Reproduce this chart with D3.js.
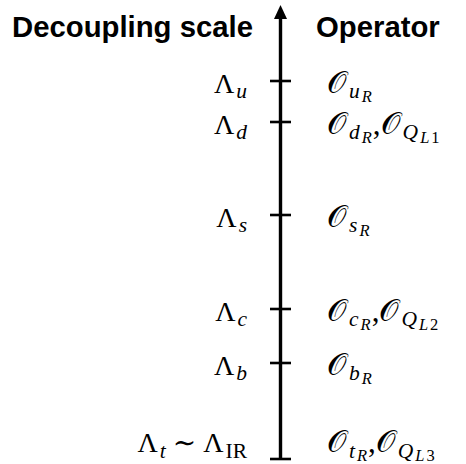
<!DOCTYPE html>
<meta charset="utf-8" />
<script src="https://d3js.org/d3.v7.min.js"></script>
<style>
  body { margin: 0; background: #fff; }
</style>
<div id="chart"></div>
<script>
  // quarks in decoupling order, top of the axis first
  const quarks = ['u', 'd', 's', 'c', 'b', 't'];
  // relative decoupling scale (arbitrary log units, t = IR end of the axis)
  const scaleValues = [378, 337, 244, 150, 96, 0];
  // label pieces: [text, level] (level 0 = normal, 1 = subscript, 2 = sub-subscript)
  const scaleLabels = [
    [['Λ', 0], ['u', 1]],
    [['Λ', 0], ['d', 1]],
    [['Λ', 0], ['s', 1]],
    [['Λ', 0], ['c', 1]],
    [['Λ', 0], ['b', 1]],
    [['Λ', 0], ['t', 1], [' ∼ Λ', 0], ['IR', 1, 'up']]
  ];
  const operatorLabels = [
    [['𝒪', 0], ['u', 1], ['R', 2]],
    [['𝒪', 0], ['d', 1], ['R', 2], [',𝒪', 0], ['Q', 1], ['L', 2], ['1', 2, 'up']],
    [['𝒪', 0], ['s', 1], ['R', 2]],
    [['𝒪', 0], ['c', 1], ['R', 2], [',𝒪', 0], ['Q', 1], ['L', 2], ['2', 2, 'up']],
    [['𝒪', 0], ['b', 1], ['R', 2]],
    [['𝒪', 0], ['t', 1], ['R', 2], [',𝒪', 0], ['Q', 1], ['L', 2], ['3', 2, 'up']]
  ];
  const titles = ['Decoupling scale', 'Operator'];

  const width = 466, height = 464;
  const axisX = 280.5;

  const svg = d3.select('#chart').append('svg')
    .attr('width', width)
    .attr('height', height);

  const y = d3.scaleLinear().domain([0, 454]).range([459, 5]);

  // axis line with arrow head
  svg.append('line')
    .attr('x1', axisX).attr('x2', axisX)
    .attr('y1', y(0)).attr('y2', y(454) + 12)
    .attr('stroke', '#000').attr('stroke-width', 3.4);
  const tip = y(454);
  svg.append('path')
    .attr('d', `M${axisX},${tip} L${axisX - 6.5},${tip + 14} L${axisX + 6.5},${tip + 14} Z`)
    .attr('fill', '#000');

  // ticks
  svg.selectAll('.tick')
    .data(scaleValues)
    .join('line')
    .attr('class', 'tick')
    .attr('x1', axisX - 10.5).attr('x2', axisX + 10.5)
    .attr('y1', d => y(d)).attr('y2', d => y(d))
    .attr('stroke', '#000').attr('stroke-width', 2.6);

  // titles
  svg.append('text')
    .attr('x', 12).attr('y', 37)
    .style('font', 'bold 29.3px "Liberation Sans", Arial, sans-serif')
    .text(titles[0]);
  svg.append('text')
    .attr('x', 316).attr('y', 37)
    .style('font', 'bold 29.3px "Liberation Sans", Arial, sans-serif')
    .text(titles[1]);

  const sizes = [28, 21.5, 16.5];
  const shifts = [0, 5.5, 9];

  function writeMath(sel, pieces) {
    let cur = 0;
    pieces.forEach(([t, lvl, up]) => {
      const isO = t.includes('𝒪');
      sel.append('tspan')
        .attr('dy', shifts[lvl] - cur)
        .attr('dx', lvl > 0 ? 2 : (isO ? 1 : 0))
        .style('font-size', (isO ? 31 : sizes[lvl]) + 'px')
        .style('font-style', lvl > 0 && !up ? 'italic' : 'normal')
        .text(t);
      cur = shifts[lvl];
    });
  }

  // labels sit centred on their tick, kept inside the picture at the IR end
  const labelY = d => Math.min(y(d) + 11.5, height - 12);

  svg.selectAll('.scale-label')
    .data(scaleValues)
    .join('text')
    .attr('class', 'scale-label')
    .attr('x', 247)
    .attr('y', d => labelY(d))
    .attr('text-anchor', 'end')
    .style('font-family', '"Liberation Serif", "DejaVu Serif", serif')
    .each(function (d, i) { writeMath(d3.select(this), scaleLabels[i]); });

  svg.selectAll('.op-label')
    .data(scaleValues)
    .join('text')
    .attr('class', 'op-label')
    .attr('x', 326)
    .attr('y', d => labelY(d))
    .style('font-family', '"Liberation Serif", "DejaVu Serif", serif')
    .each(function (d, i) { writeMath(d3.select(this), operatorLabels[i]); });
</script>
